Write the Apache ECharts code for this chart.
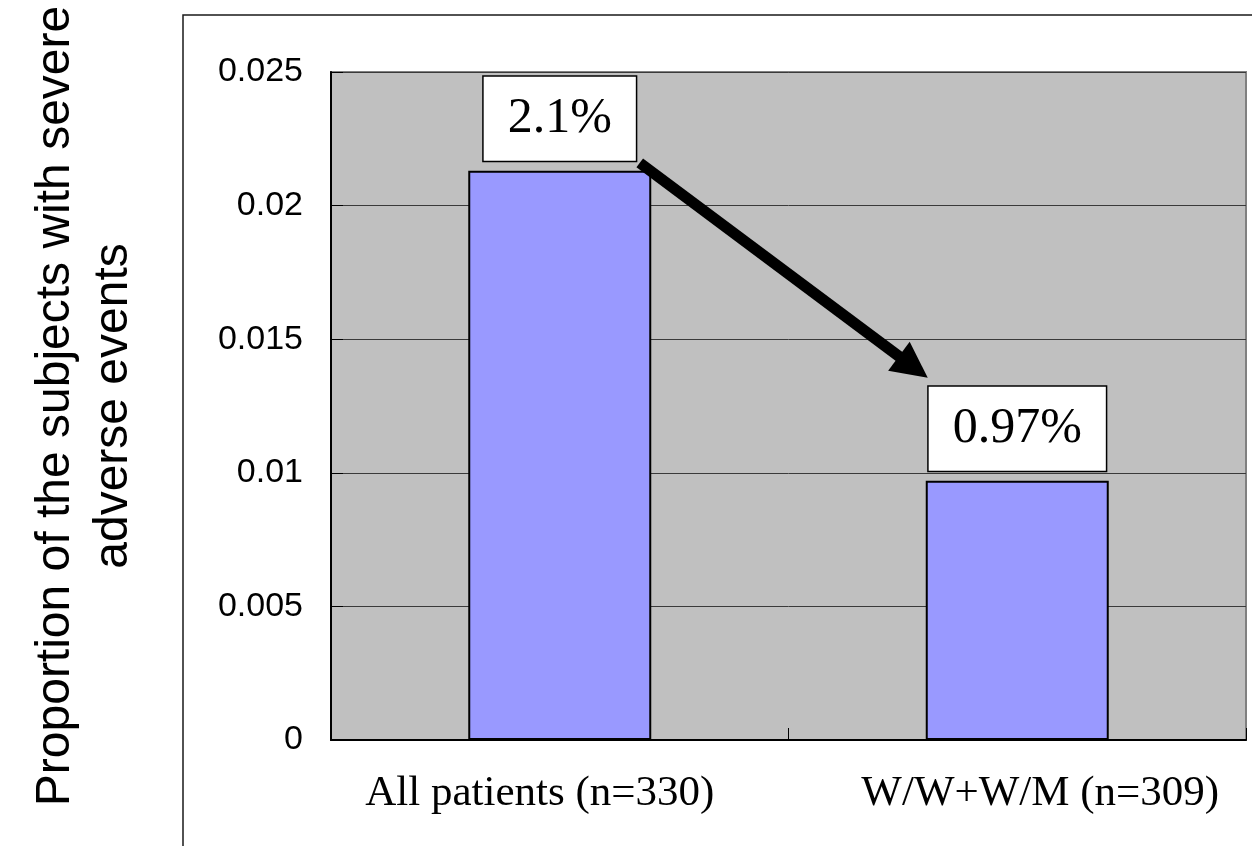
<!DOCTYPE html>
<html>
<head>
<meta charset="utf-8">
<script src="https://cdn.jsdelivr.net/npm/echarts@6/dist/echarts.min.js"></script>
<style>
  html, body { margin: 0; padding: 0; background: #ffffff; }
  #chart { width: 1252px; height: 846px; }
</style>
</head>
<body>
<div id="chart"></div>
<script>
// Groups compared
const categories = ['All patients (n=330)', 'W/W+W/M (n=309)'];
// Proportion of subjects with severe adverse events in each group
const proportions = [0.0213, 0.0097];
// Value axis tick labels (0 .. 0.025 step 0.005)
const yTickLabels = ['0', '0.005', '0.01', '0.015', '0.02', '0.025'];
const yTitleLines = ['Proportion of the subjects with severe', 'adverse events'];

const chart = echarts.init(document.getElementById('chart'), null, { renderer: 'canvas' });

const serif = '"Liberation Serif", "Times New Roman", serif';
const sans = '"Liberation Sans", Arial, sans-serif';

const option = {
  animation: false,
  backgroundColor: '#ffffff',
  grid: {
    left: 331, top: 72, right: 6, bottom: 106,
    show: true,
    backgroundColor: '#c0c0c0',
    borderColor: '#808080',
    borderWidth: 2
  },
  xAxis: {
    type: 'category',
    data: categories,
    axisLine: { show: true, lineStyle: { color: '#000000', width: 2 } },
    axisTick: { show: true, inside: true, length: 12, lineStyle: { color: '#000000', width: 1 } },
    axisLabel: {
      interval: 0,
      margin: 32,
      color: '#000000',
      // first label sits a little left of its band, second a little right
      formatter: function (v, i) { return (i === 0 ? '{l|' : '{r|') + v + '}'; },
      rich: {
        l: { fontFamily: serif, fontSize: 43, color: '#000000', padding: [0, 40, 0, 0] },
        r: { fontFamily: serif, fontSize: 43, color: '#000000', padding: [0, 0, 0, 46] }
      }
    },
    splitLine: { show: false }
  },
  yAxis: {
    type: 'value',
    min: 0,
    max: 0.025,
    interval: 0.005,
    axisLine: { show: true, lineStyle: { color: '#000000', width: 2 } },
    axisTick: { show: true, inside: true, length: 12, lineStyle: { color: '#000000', width: 1 } },
    axisLabel: {
      margin: 28,
      fontFamily: sans,
      fontSize: 34,
      color: '#000000',
      formatter: function (v) { return yTickLabels[Math.round(v / 0.005)]; }
    },
    splitLine: { show: true, lineStyle: { color: '#3a3a3a', width: 1 } }
  },
  series: [{
    type: 'bar',
    data: proportions,
    barWidth: '40%',
    itemStyle: { color: '#9999ff', borderColor: '#000000', borderWidth: 2 },
    label: {
      show: true,
      position: 'top',
      distance: 10,
      formatter: function (p) { return (p.value * 100).toPrecision(2) + '%'; },
      fontFamily: serif,
      fontSize: 50,
      lineHeight: 50,
      color: '#000000',
      backgroundColor: '#ffffff',
      borderColor: '#000000',
      borderWidth: 1.5,
      padding: [17, 24, 17, 24]
    }
  }]
};

chart.setOption(option);

// Arrow from the first value box down to the second one, anchored to the bar tops
const p1 = chart.convertToPixel({ gridIndex: 0 }, [0, proportions[0]]);
const p2 = chart.convertToPixel({ gridIndex: 0 }, [1, proportions[1]]);
const start = [p1[0] + 80, p1[1] - 8];
const tip = [p2[0] - 89.5, p2[1] - 103];
const dx = tip[0] - start[0], dy = tip[1] - start[1];
const len = Math.sqrt(dx * dx + dy * dy);
const ux = dx / len, uy = dy / len;
const headLen = 36, headHalf = 18;
const base = [tip[0] - ux * headLen, tip[1] - uy * headLen];

chart.setOption({
  graphic: [
    // outer chart frame (left and top edges)
    {
      type: 'rect', z: 0, silent: true,
      shape: { x: 183, y: 15, width: 1200, height: 900 },
      style: { fill: null, stroke: '#1a1a1a', lineWidth: 1.5 }
    },
    // y axis title, two lines rotated
    {
      type: 'text', silent: true,
      x: 85, y: 406, rotation: Math.PI / 2,
      style: {
        text: yTitleLines.join('\n'),
        font: '48px ' + sans,
        lineHeight: 58,
        fill: '#000000',
        align: 'center',
        verticalAlign: 'middle'
      }
    },
    {
      type: 'line', z: 100, silent: true,
      shape: { x1: start[0], y1: start[1], x2: base[0] + ux * 2, y2: base[1] + uy * 2 },
      style: { stroke: '#000000', lineWidth: 11, lineCap: 'butt' }
    },
    {
      type: 'polygon', z: 100, silent: true,
      shape: {
        points: [
          tip,
          [base[0] - uy * headHalf, base[1] + ux * headHalf],
          [base[0] + uy * headHalf, base[1] - ux * headHalf]
        ]
      },
      style: { fill: '#000000' }
    }
  ]
});
</script>
</body>
</html>
